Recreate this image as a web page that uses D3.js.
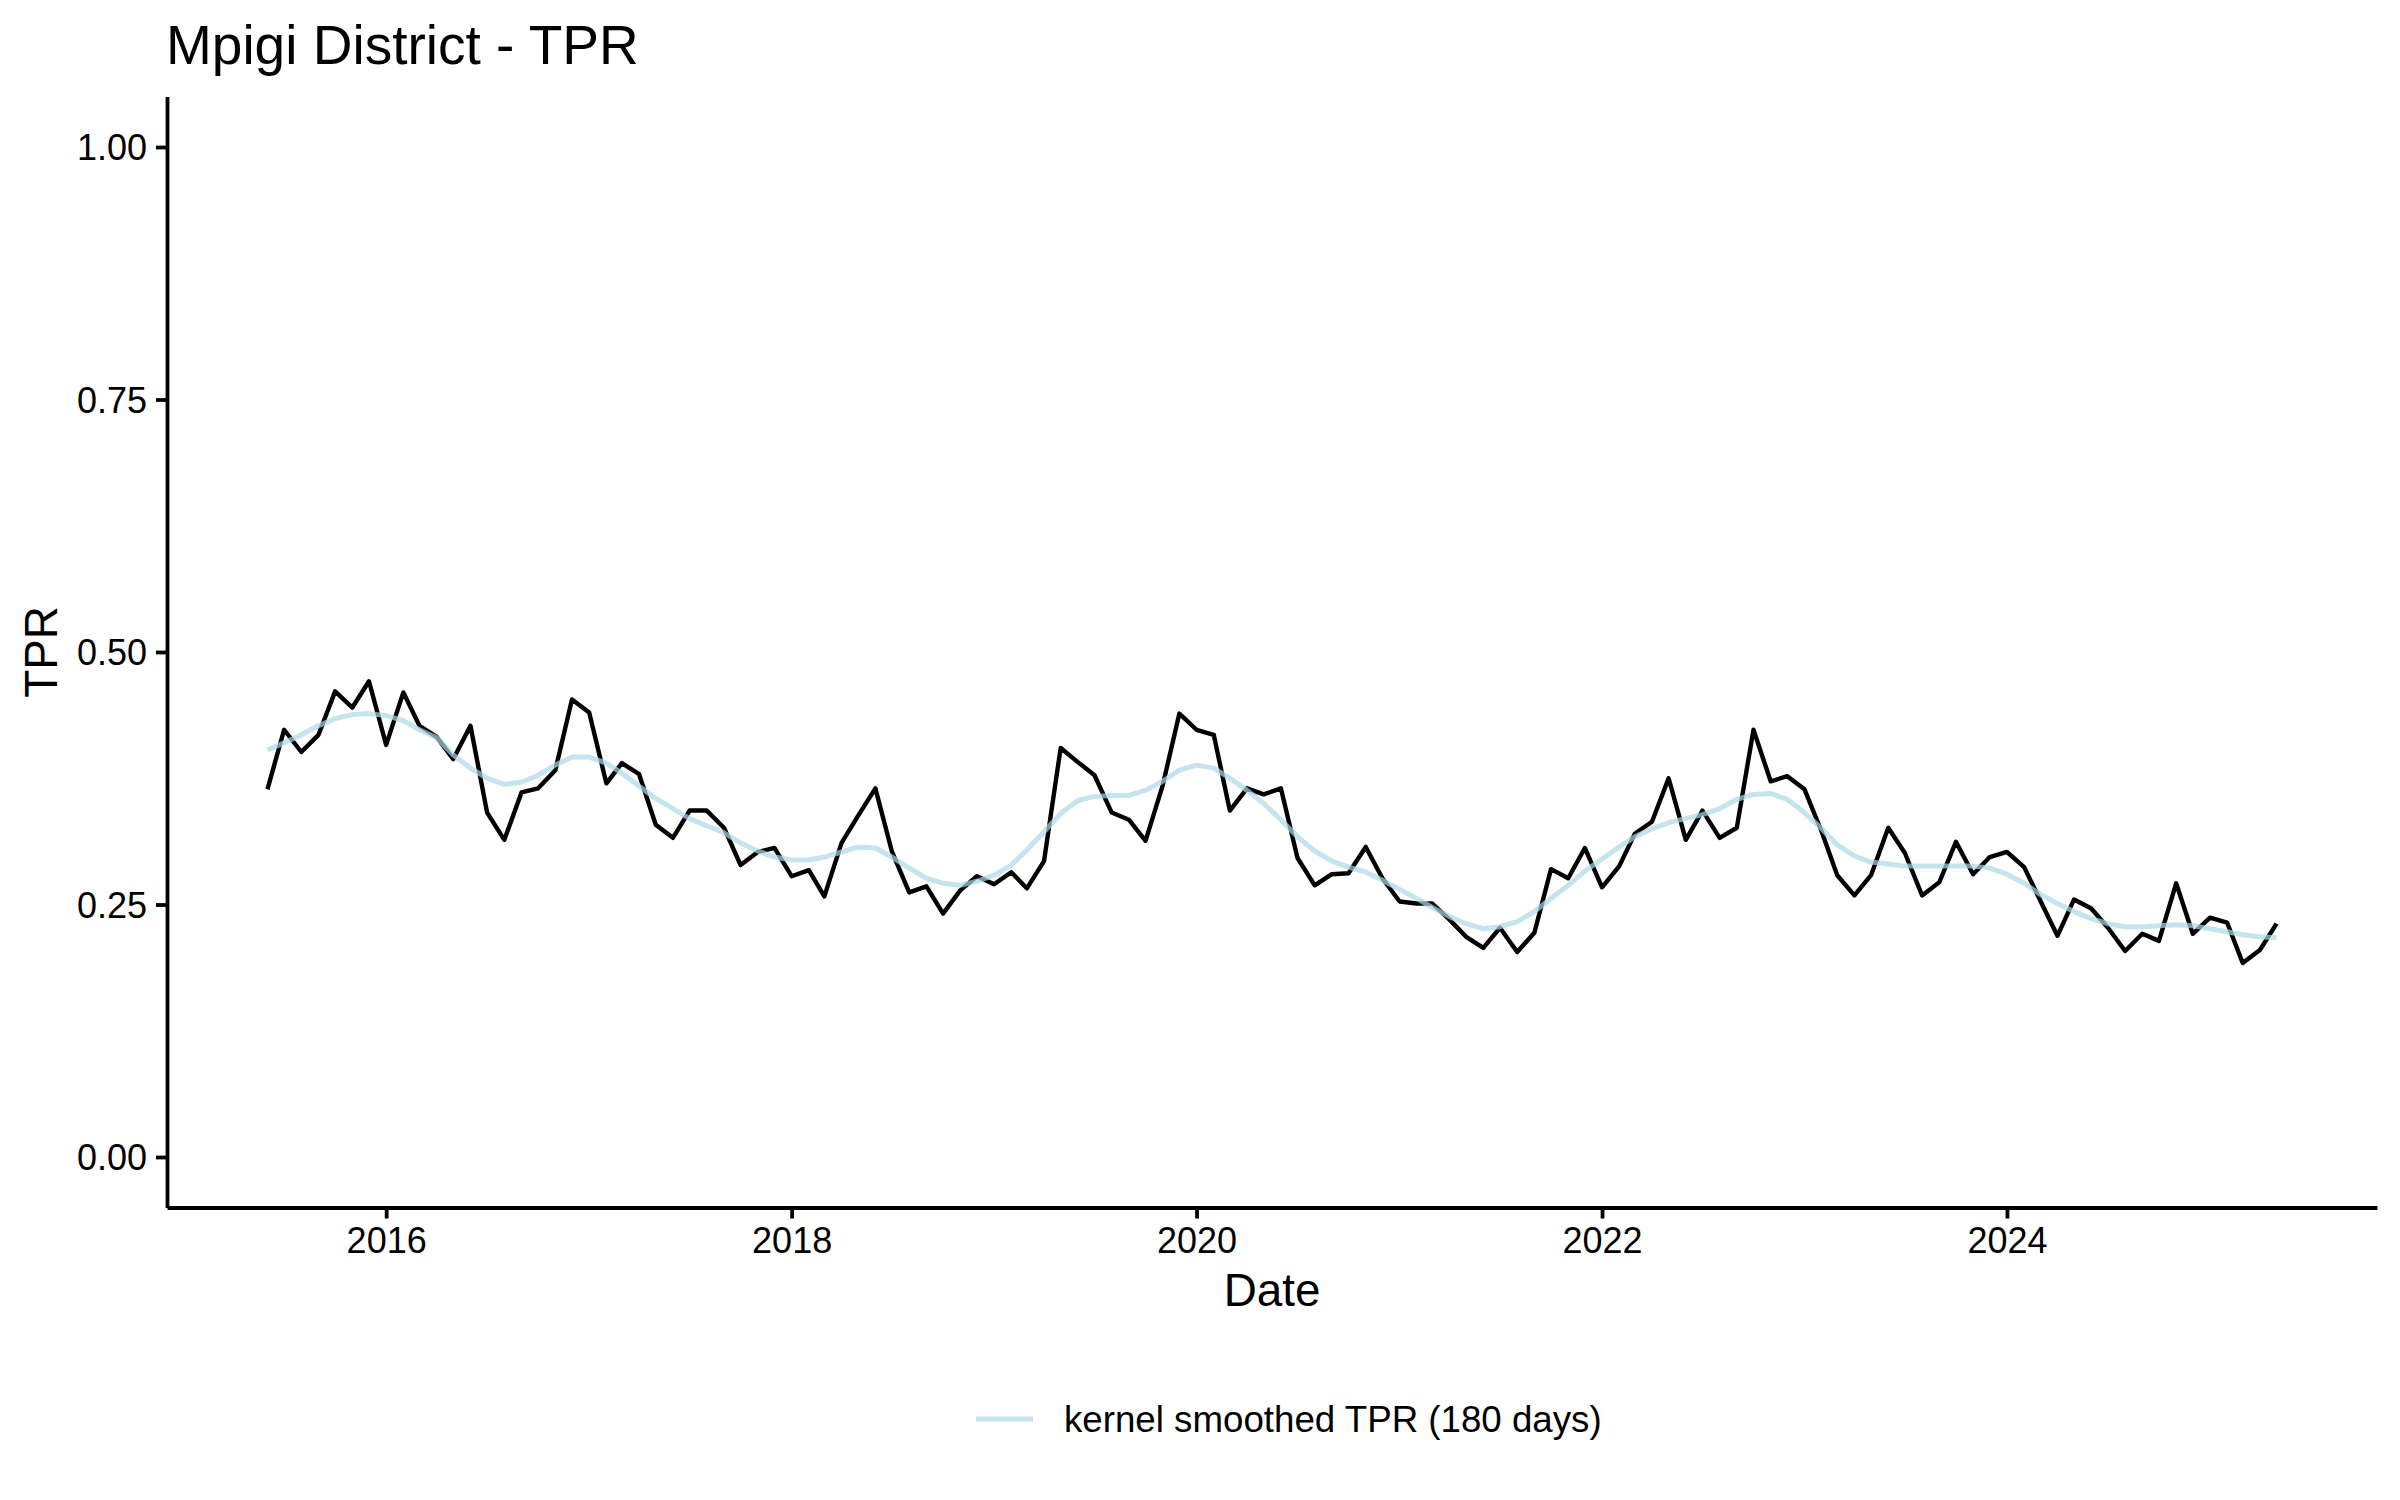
<!DOCTYPE html>
<html>
<head>
<meta charset="utf-8">
<script src="https://cdn.jsdelivr.net/npm/d3@7"></script>
<style>
  html, body { margin: 0; padding: 0; background: #fff; }
  svg { display: block; }
  text { font-family: "Liberation Sans", Arial, Helvetica, sans-serif; }
</style>
</head>
<body>
<script>
// ---- data ----
const START_MONTH = Date.UTC(2015, 5, 1);   // June 2015
const END_MONTH   = Date.UTC(2025, 5, 1);   // exclusive: last point May 2025

const tpr = [
  0.364, 0.423, 0.401, 0.418, 0.461, 0.445, 0.471, 0.408, 0.460, 0.427, 0.416, 0.394,
  0.427, 0.341, 0.314, 0.361, 0.365, 0.383, 0.453, 0.440, 0.370, 0.390, 0.379, 0.329,
  0.316, 0.343, 0.343, 0.326, 0.289, 0.302, 0.306, 0.278, 0.284, 0.258, 0.311, 0.338,
  0.365, 0.302, 0.262, 0.268, 0.241, 0.264, 0.278, 0.270, 0.282, 0.266, 0.293, 0.405,
  0.391, 0.378, 0.341, 0.334, 0.313, 0.368, 0.439, 0.423, 0.418, 0.343, 0.365, 0.359,
  0.365, 0.296, 0.269, 0.280, 0.281, 0.307, 0.276, 0.253, 0.251, 0.251, 0.235, 0.218,
  0.207, 0.227, 0.203, 0.222, 0.285, 0.276, 0.306, 0.267, 0.288, 0.320, 0.332, 0.375,
  0.314, 0.343, 0.316, 0.326, 0.423, 0.372, 0.377, 0.364, 0.322, 0.279, 0.259, 0.279,
  0.326, 0.301, 0.259, 0.272, 0.312, 0.280, 0.297, 0.302, 0.287, 0.254, 0.219, 0.255,
  0.246, 0.227, 0.204, 0.221, 0.214, 0.271, 0.221, 0.237, 0.232, 0.192, 0.205, 0.231
];

const smoothed = [
  0.403, 0.410, 0.418, 0.427, 0.434, 0.438, 0.439, 0.437, 0.432, 0.423, 0.415, 0.398,
  0.385, 0.375, 0.369, 0.371, 0.378, 0.388, 0.396, 0.396, 0.390, 0.380, 0.367, 0.355,
  0.345, 0.335, 0.328, 0.321, 0.311, 0.303, 0.297, 0.294, 0.294, 0.297, 0.302, 0.307,
  0.306, 0.297, 0.286, 0.276, 0.271, 0.269, 0.273, 0.279, 0.289, 0.304, 0.322, 0.340,
  0.353, 0.357, 0.358, 0.358, 0.363, 0.372, 0.383, 0.388, 0.385, 0.375, 0.363, 0.350,
  0.334, 0.317, 0.303, 0.293, 0.287, 0.282, 0.274, 0.265, 0.256, 0.247, 0.238, 0.231,
  0.226, 0.228, 0.233, 0.243, 0.256, 0.269, 0.283, 0.295, 0.307, 0.317, 0.325, 0.331,
  0.335, 0.339, 0.345, 0.354, 0.359, 0.360, 0.354, 0.341, 0.325, 0.309, 0.298, 0.292,
  0.290, 0.288, 0.288, 0.288, 0.288, 0.288, 0.286, 0.280, 0.271, 0.260, 0.251, 0.243,
  0.236, 0.231, 0.228, 0.228, 0.229, 0.230, 0.229, 0.226, 0.223, 0.220, 0.218, 0.217
];

const yTicks = [0, 0.25, 0.5, 0.75, 1.0];
const xTickYears = [2016, 2018, 2020, 2022, 2024];

const titleText = "Mpigi District - TPR";
const xTitle = "Date";
const yTitle = "TPR";
const legendLabel = "kernel smoothed TPR (180 days)";

// ---- layout ----
const W = 2400, H = 1500;
const panel = { left: 167, right: 2377, top: 96.5, bottom: 1207.5 };
const blueCol = "rgba(173,216,230,0.7)";

const dates = d3.utcMonth.range(new Date(START_MONTH), new Date(END_MONTH));
const rows = dates.map((d, i) => ({ date: d, tpr: tpr[i], smooth: smoothed[i] }));

const svg = d3.select("body").append("svg")
  .attr("width", W).attr("height", H)
  .attr("viewBox", `0 0 ${W} ${H}`);

// x scale with ggplot-like 5% expansion
const ext = d3.extent(dates, d => +d);
const pad = (ext[1] - ext[0]) * 0.05;
const x = d3.scaleUtc()
  .domain([new Date(ext[0] - pad), new Date(ext[1] + pad)])
  .range([panel.left, panel.right]);

const y = d3.scaleLinear()
  .domain([-0.05, 1.05])
  .range([panel.bottom, panel.top]);

// lines
const lineTpr = d3.line().x(d => x(d.date)).y(d => y(d.tpr)).curve(d3.curveLinear);
const lineSm = d3.line().x(d => x(d.date)).y(d => y(d.smooth)).curve(d3.curveLinear);

svg.append("path").datum(rows)
  .attr("d", lineTpr)
  .attr("fill", "none").attr("stroke", "#000")
  .attr("stroke-width", 4.4).attr("stroke-linejoin", "round").attr("stroke-linecap", "butt");

svg.append("path").datum(rows)
  .attr("d", lineSm)
  .attr("fill", "none").attr("stroke", blueCol)
  .attr("stroke-width", 5).attr("stroke-linejoin", "round").attr("stroke-linecap", "butt");

// axes
const fontTick = 36;
const xAxis = d3.axisBottom(x)
  .tickValues(xTickYears.map(yr => new Date(Date.UTC(yr, 0, 1))))
  .tickFormat(d3.utcFormat("%Y"))
  .tickSize(11).tickSizeOuter(0).tickPadding(9);

const gx = svg.append("g")
  .attr("transform", `translate(0,${panel.bottom})`)
  .call(xAxis);

const yAxis = d3.axisLeft(y)
  .tickValues(yTicks)
  .tickFormat(d3.format(".2f"))
  .tickSize(11).tickSizeOuter(0).tickPadding(9);

const gy = svg.append("g")
  .attr("transform", `translate(${panel.left},0)`)
  .call(yAxis);

[gx, gy].forEach(g => {
  g.select(".domain").attr("stroke", "#000").attr("stroke-width", 3.8);
  g.selectAll(".tick line").attr("stroke", "#000").attr("stroke-width", 3.8);
  g.selectAll(".tick text")
    .attr("fill", "#000")
    .style("font-size", fontTick + "px")
    .style("font-family", '"Liberation Sans", Arial, sans-serif');
});
gy.selectAll(".tick text").attr("dy", "0.35em");

// title
svg.append("text")
  .attr("x", 166).attr("y", 64)
  .style("font-size", "55px")
  .attr("fill", "#000")
  .text(titleText);

// axis titles
svg.append("text")
  .attr("x", (panel.left + panel.right) / 2).attr("y", 1306)
  .attr("text-anchor", "middle")
  .style("font-size", "45.8px")
  .attr("fill", "#000")
  .text(xTitle);

svg.append("text")
  .attr("transform", `translate(57,${(panel.top + panel.bottom) / 2}) rotate(-90)`)
  .attr("text-anchor", "middle")
  .style("font-size", "45.8px")
  .attr("fill", "#000")
  .text(yTitle);

// legend
const legY = 1419;
svg.append("line")
  .attr("x1", 976).attr("x2", 1033)
  .attr("y1", legY).attr("y2", legY)
  .attr("stroke", blueCol).attr("stroke-width", 5);

svg.append("text")
  .attr("x", 1064).attr("y", legY + 13)
  .style("font-size", "36.7px")
  .attr("fill", "#000")
  .text(legendLabel);
</script>
</body>
</html>
